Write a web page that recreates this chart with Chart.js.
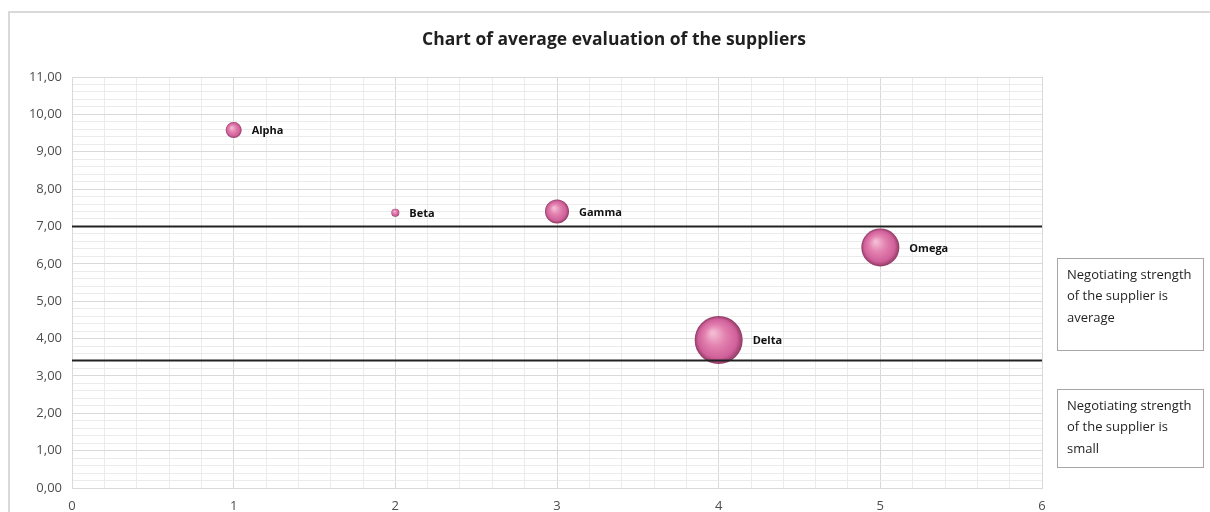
<!DOCTYPE html>
<html lang="en">
  <head>
    <meta charset="UTF-8" />
    <title>Average evaluation of the suppliers</title>
    <script src="https://cdn.jsdelivr.net/npm/chart.js"></script>
    <style>
      body { margin: 0; background: #fff; }
    </style>
  </head>
  <body>
    <canvas id="bubbleChart" width="1210" height="512"></canvas>

    <script>
      // data
      const suppliers = ["Alpha", "Beta", "Gamma", "Delta", "Omega"];
      const position = [1, 2, 3, 4, 5];
      const score = [9.58, 7.37, 7.4, 3.96, 6.44];
      const bubbleSize = [8, 4, 12, 24, 19];
      const thresholds = [7.0, 3.41];
      const boxTexts = [
        ["Negotiating strength", "of the supplier is", "average"],
        ["Negotiating strength", "of the supplier is", "small"],
      ];
      const chartTitle = "Chart of average evaluation of the suppliers";

      const FONT = "'Open Sans', 'Noto Sans', sans-serif";
      const isWhole = (v) => Math.abs(v - Math.round(v)) < 1e-6;

      // pink glossy bubbles
      function bubbleFill(ctx) {
        const chart = ctx.chart;
        const fallback = "#e07aa8";
        if (!ctx.raw || !chart.scales || !chart.scales.x) return fallback;
        const cx = chart.scales.x.getPixelForValue(ctx.raw.x);
        const cy = chart.scales.y.getPixelForValue(ctx.raw.y);
        const r = ctx.raw.r;
        if (!isFinite(cx) || !isFinite(cy) || !isFinite(r)) return fallback;
        const g = chart.ctx.createRadialGradient(
          cx - r * 0.25, cy - r * 0.3, r * 0.05, cx, cy, r
        );
        g.addColorStop(0, "#f3bcd4");
        g.addColorStop(0.4, "#e382b0");
        g.addColorStop(0.8, "#d0609a");
        g.addColorStop(1, "#8f3a63");
        return g;
      }

      const decorPlugin = {
        id: "decor",
        beforeDraw(chart) {
          const c = chart.ctx;
          c.save();
          c.strokeStyle = "#d9d9d9";
          c.lineWidth = 2;
          c.strokeRect(9, 12, 1210, 520);
          c.restore();
        },
        afterDraw(chart) {
          const c = chart.ctx;
          c.save();
          // title
          c.fillStyle = "#1f1f1f";
          c.font = "bold 17.5px " + FONT;
          c.textAlign = "center";
          c.textBaseline = "middle";
          c.fillText(chartTitle, 614, 40);

          // bubble labels
          const meta = chart.getDatasetMeta(0);
          c.font = "bold 11px " + FONT;
          c.textAlign = "left";
          c.fillStyle = "#111";
          meta.data.forEach((pt, i) => {
            c.fillText(suppliers[i], pt.x + bubbleSize[i] + 10, pt.y + 1);
          });

          // side boxes
          const boxes = [
            { top: 258, bottom: 350 },
            { top: 389, bottom: 467 },
          ];
          c.font = "13px " + FONT;
          boxes.forEach((b, i) => {
            c.strokeStyle = "#a6a6a6";
            c.lineWidth = 1;
            c.strokeRect(1057.5, b.top + 0.5, 146, b.bottom - b.top);
            c.fillStyle = "#1f1f1f";
            boxTexts[i].forEach((line, k) => {
              c.fillText(line, 1067, b.top + 17 + k * 21.5);
            });
          });
          c.restore();
        },
      };

      const ctx = document.getElementById("bubbleChart").getContext("2d");

      const datasets = [
        {
          type: "bubble",
          label: "Suppliers",
          data: suppliers.map((s, i) => ({
            x: position[i],
            y: score[i],
            r: bubbleSize[i],
          })),
          backgroundColor: bubbleFill,
          borderWidth: 0,
          order: 1,
        },
      ];
      thresholds.forEach((t) => {
        datasets.push({
          type: "line",
          data: [
            { x: 0, y: t },
            { x: 6, y: t },
          ],
          borderColor: "#222",
          borderWidth: 2,
          pointRadius: 0,
          order: 0,
        });
      });

      new Chart(ctx, {
        type: "bubble",
        data: { datasets: datasets },
        options: {
          responsive: false,
          animation: false,
          layout: { padding: { top: 77, right: 168, left: 0, bottom: 0 } },
          plugins: {
            legend: { display: false },
            tooltip: { enabled: false },
          },
          scales: {
            x: {
              type: "linear",
              min: 0,
              max: 6,
              afterFit: (s) => { s.height = 24; },
              ticks: {
                stepSize: 0.2,
                autoSkip: false,
                maxRotation: 0,
                padding: 10,
                color: "#4d4d4d",
                font: { family: FONT, size: 13 },
                callback: (v) => (isWhole(v) ? Math.round(v).toString() : ""),
              },
              grid: {
                drawTicks: false,
                color: (c) => (isWhole(c.tick.value) ? "#d9d9d9" : "#ebebeb"),
              },
              border: { color: "#d9d9d9" },
            },
            y: {
              min: 0,
              max: 11,
              afterFit: (s) => { s.width = 72; },
              ticks: {
                stepSize: 0.2,
                autoSkip: false,
                padding: 10,
                color: "#4d4d4d",
                font: { family: FONT, size: 13 },
                callback: (v) => (isWhole(v) ? v.toFixed(2).replace(".", ",") : ""),
              },
              grid: {
                drawTicks: false,
                color: (c) => (isWhole(c.tick.value) ? "#d9d9d9" : "#ebebeb"),
              },
              border: { color: "#d9d9d9" },
            },
          },
        },
        plugins: [decorPlugin],
      });
    </script>
  </body>
</html>
